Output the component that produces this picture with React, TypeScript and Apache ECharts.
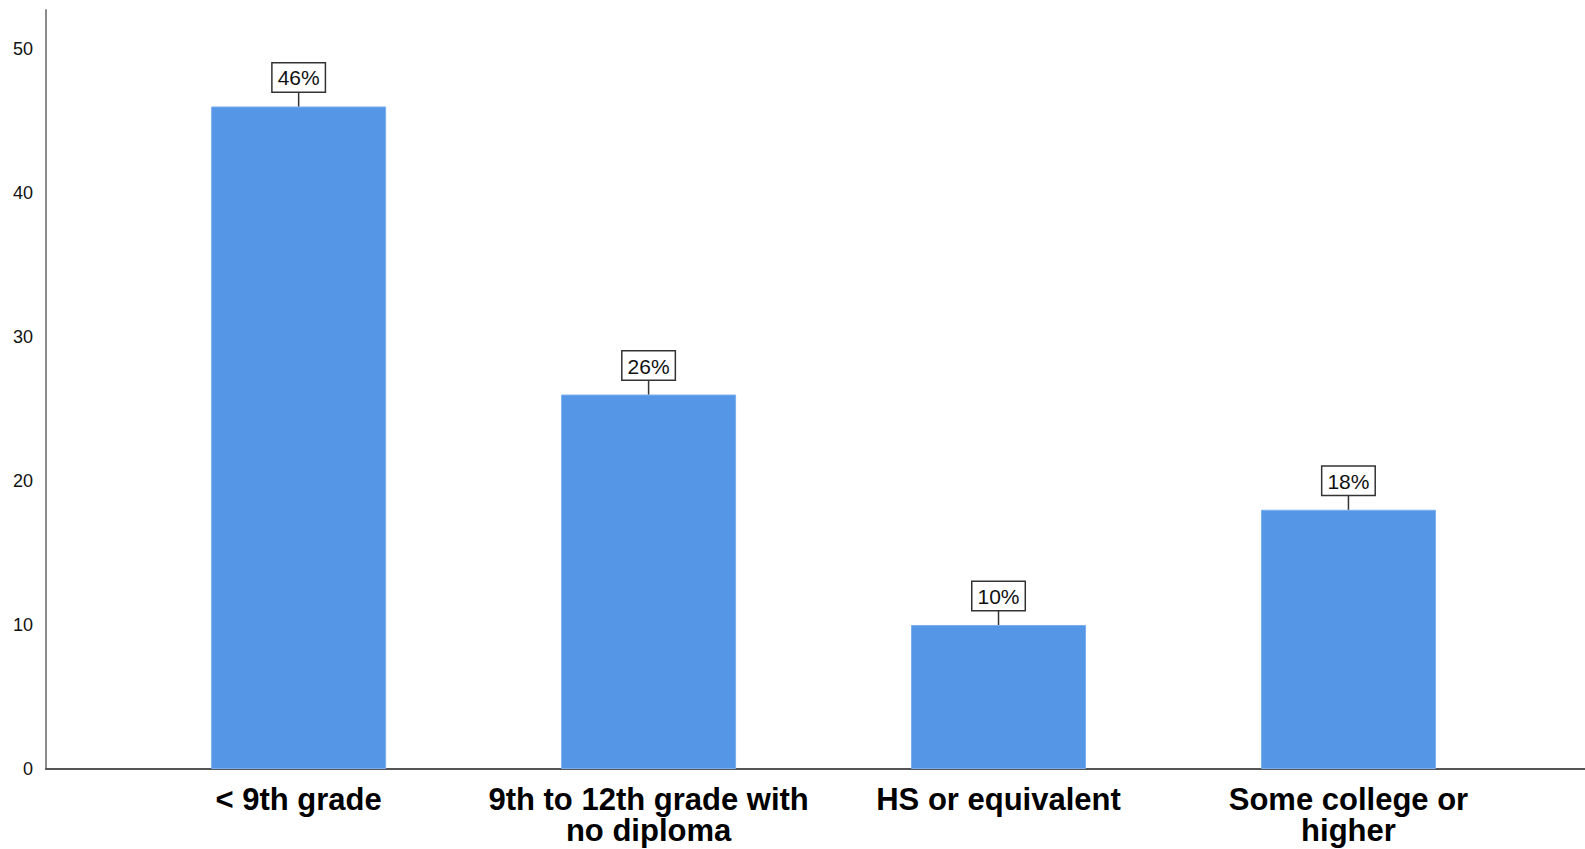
import React, { useEffect, useRef } from "react";
import * as echarts from "echarts";

const categories = [
  "< 9th grade",
  "9th to 12th grade with\nno diploma",
  "HS or equivalent",
  "Some college or\nhigher",
];
const values = [46, 26, 10, 18];
const percentLabels = ["46%", "26%", "10%", "18%"];
const yTicks = [0, 10, 20, 30, 40, 50];

export default function App() {
  const ref = useRef<HTMLDivElement>(null);
  useEffect(() => {
    if (!ref.current) return;
    const chart = echarts.init(ref.current, null, { renderer: "svg" });
    const barData = values.map((v, i) => [i, v]);
    chart.setOption({
      animation: false,
      backgroundColor: "#ffffff",
      grid: { left: 46, right: 0, top: 10, bottom: 80, containLabel: false },
      xAxis: {
        type: "value",
        min: -0.722,
        max: 3.676,
        splitLine: { show: false },
        axisTick: { show: false },
        axisLine: { show: true, onZero: false, lineStyle: { color: "#555555", width: 2 } },
        axisLabel: {
          customValues: [0, 1, 2, 3],
          formatter: (v: number) => categories[Math.round(v)] ?? "",
          fontFamily: "Liberation Sans, Arial, sans-serif",
          fontWeight: "bold",
          fontSize: 31,
          lineHeight: 31,
          color: "#000000",
          margin: 15,
          align: "center",
        },
      },
      yAxis: {
        type: "value",
        min: 0,
        max: 52.7,
        splitLine: { show: false },
        axisTick: { show: false },
        axisLine: { show: true, onZero: false, lineStyle: { color: "#8c8c8c", width: 2 } },
        axisLabel: {
          customValues: yTicks,
          fontFamily: "Liberation Sans, Arial, sans-serif",
          fontSize: 18,
          color: "#111111",
          margin: 13,
        },
      },
      series: [
        {
          type: "bar",
          data: barData,
          barWidth: 175,
          itemStyle: { color: "#5596e6", borderColor: "#7aaeee", borderWidth: 1 },
          z: 2,
        },
        {
          type: "custom",
          data: barData,
          z: 3,
          renderItem: (params: any, api: any) => {
            const idx = params.dataIndex;
            const pt = api.coord([api.value(0), api.value(1)]);
            const gap = 15;
            return {
              type: "group",
              children: [
                {
                  type: "line",
                  shape: { x1: pt[0], y1: pt[1], x2: pt[0], y2: pt[1] - gap },
                  style: { stroke: "#333333", lineWidth: 1.5 },
                },
                {
                  type: "text",
                  x: pt[0],
                  y: pt[1] - gap,
                  style: {
                    text: percentLabels[idx],
                    fill: "#111111",
                    font: "21px 'Liberation Sans', Arial, sans-serif",
                    align: "center",
                    verticalAlign: "bottom",
                    backgroundColor: "#ffffff",
                    borderColor: "#333333",
                    borderWidth: 1.5,
                    padding: [4, 5, 3, 5],
                  },
                },
              ],
            };
          },
        },
      ],
    });
    return () => chart.dispose();
  }, []);
  return (
    <div
      ref={ref}
      style={{ position: "fixed", left: 0, top: 0, width: 1585, height: 849, background: "#fff" }}
    />
  );
}
